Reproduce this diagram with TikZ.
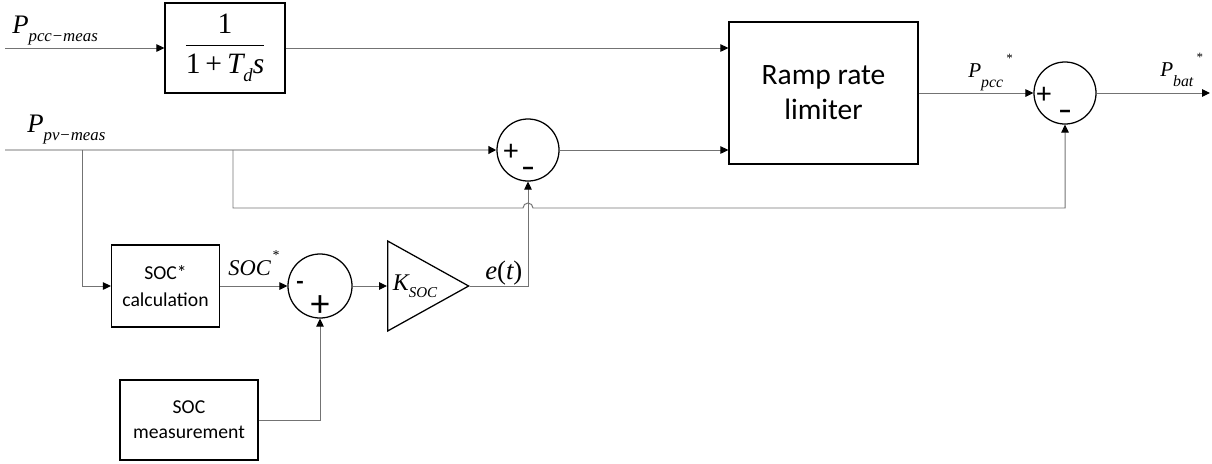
\documentclass[tikz,border=0pt]{standalone}
\usepackage{amsmath}
\usepackage{fontspec}
\setsansfont{Carlito}
\newfontfamily\timesfont{Liberation Serif}
\usetikzlibrary{arrows.meta, shapes.geometric}

% subscripts and stars of the signal names
\newcommand{\lowsub}[1]{\raisebox{-0.3em}{\scalebox{0.63}{#1}}}
\newcommand{\deepsub}[1]{\raisebox{-0.5em}{\scalebox{0.75}{#1}}}
\newcommand{\highsup}[1]{\raisebox{0.7em}{\scalebox{0.6}{#1}}}

\begin{document}
\begin{tikzpicture}[
  x=0.025cm, y=-0.025cm,
  font=\sffamily,
  % Block styles
  box/.style={draw, rectangle, line width=0.9pt, fill=white, align=center, inner sep=2pt},
  sumnode/.style={draw, circle, line width=0.9pt, minimum size=1.55cm, inner sep=0pt},
  gainbox/.style={draw, isosceles triangle, isosceles triangle stretches, shape border rotate=0,
    line width=0.9pt, minimum width=2.25cm, minimum height=2.025cm, inner sep=0pt,
    font=\timesfont\itshape\fontsize{17}{17}\selectfont},
  sign/.style={inner sep=0pt, font=\sffamily\fontsize{21}{21}\selectfont},
  lbl/.style={inner sep=0pt, font=\timesfont\itshape\fontsize{19}{19}\selectfont},
  smalllbl/.style={inner sep=0pt, font=\timesfont\itshape\fontsize{15}{15}\selectfont},
  % Line styles
  line/.style={draw=black!55, line width=0.7pt},
  arrowline/.style={line, -{Triangle[length=0.2cm, width=0.19cm, color=black]}},
  pvline/.style={arrowline, draw=black!25, line width=1.4pt}
]

  % ==========================================
  % FRAME
  % ==========================================
  \useasboundingbox (0,0) rectangle (1212,463);

  % ==========================================
  % UPPER PATH: PCC MEASUREMENT
  % ==========================================
  \node[box, minimum width=3cm, minimum height=2.25cm, font=\timesfont\fontsize{21}{24}\selectfont] (lowpass) at (225,48)
    {$\dfrac{\mbox{1}}{\mbox{1\,+\,\itshape T\lowsub{d}s}}$};
  \node[box, minimum width=4.725cm, minimum height=3.55cm, font=\sffamily\fontsize{21}{25}\selectfont] (ramp) at (823.5,93) {Ramp rate\\limiter};

  \coordinate (pccin) at (5,48);
  \node[lbl, anchor=base west] (pccmeas) at (12,33) {P\lowsub{pcc\kern1pt\upshape−\kern1pt\itshape meas}};
  \draw[arrowline] (pccin) -- (lowpass.west);
  \draw[arrowline] (lowpass.east) -- (lowpass.east -| ramp.west);

  % ==========================================
  % PV PATH AND SUMMING JUNCTIONS
  % ==========================================
  \node[sumnode] (sumpv) at (528,150) {};
  \node[sign] (pvplus) at (511,152) {+};
  \node[sign, font=\sffamily\bfseries\fontsize{20}{20}\selectfont] (pvminus) at (528,172) {--};

  \node[sumnode] (sumbat) at (1065,93) {};
  \node[sign] (batplus) at (1044,95) {+};
  \node[sign, font=\sffamily\bfseries\fontsize{20}{20}\selectfont] (batminus) at (1065,115) {--};

  \coordinate (pvin) at (5,150);
  \coordinate (soctap) at (82,150);
  \coordinate (pvtap) at (233,150);
  \coordinate (hopL) at (523,208);
  \coordinate (batout) at (1210,93);
  \node[lbl, anchor=base west] (pvmeas) at (27,132) {P\lowsub{pv\kern1pt\upshape−\kern1pt\itshape meas}};

  \draw[pvline] (pvin) -- (sumpv.west);
  \draw[arrowline] (sumpv.east) -- (sumpv.east -| ramp.west);
  \draw[arrowline] (ramp.east) -- (sumbat.west);
  \draw[arrowline] (sumbat.east) -- (batout);
  \node[smalllbl, anchor=base west] (pccref) at (968,77) {P\deepsub{pcc}\kern2pt\highsup{*}};
  \node[smalllbl, anchor=base west] (batref) at (1160,76) {P\deepsub{bat}\kern2pt\highsup{*}};

  % Feed-forward to battery junction (hops over e(t))
  \draw[arrowline] (pvtap) |- (hopL) arc[start angle=180, end angle=0, radius=0.125cm] -| (sumbat.south);

  % ==========================================
  % SOC LOOP
  % ==========================================
  \node[box, minimum width=2.7cm, minimum height=2.05cm, font=\sffamily\fontsize{14}{19}\selectfont] (soccalc) at (165.5,286) {SOC*\\calculation};
  \node[box, minimum width=3.45cm, minimum height=2cm, font=\sffamily\fontsize{14}{18}\selectfont] (socmeas) at (189,420) {SOC\\measurement};

  \node[sumnode, minimum size=1.6cm] (sumsoc) at (320,286) {};
  \node[sign, font=\sffamily\bfseries\fontsize{17}{17}\selectfont] (socminus) at (300,285) {-};
  \node[sign, font=\sffamily\fontsize{27}{27}\selectfont] (socplus) at (320,306) {+};

  \node[gainbox, anchor=lower side] (gain) at (387,286) {K\lowsub{SOC}};

  \draw[arrowline] (soctap) |- (soccalc.west);
  \draw[arrowline] (soccalc.east) -- (sumsoc.west);
  \node[lbl, font=\timesfont\itshape\fontsize{16}{16}\selectfont, anchor=base west] (socref) at (228,275) {SOC\kern1pt\highsup{*}};
  \draw[arrowline] (sumsoc.east) -- (gain.lower side);
  \draw[arrowline] (gain.apex) -| (sumpv.south);
  \node[lbl, anchor=base west] (errlbl) at (485,279) {e\upshape(\itshape t\upshape)};
  \draw[arrowline] (socmeas.east) -| (sumsoc.south);

\end{tikzpicture}
\end{document}
